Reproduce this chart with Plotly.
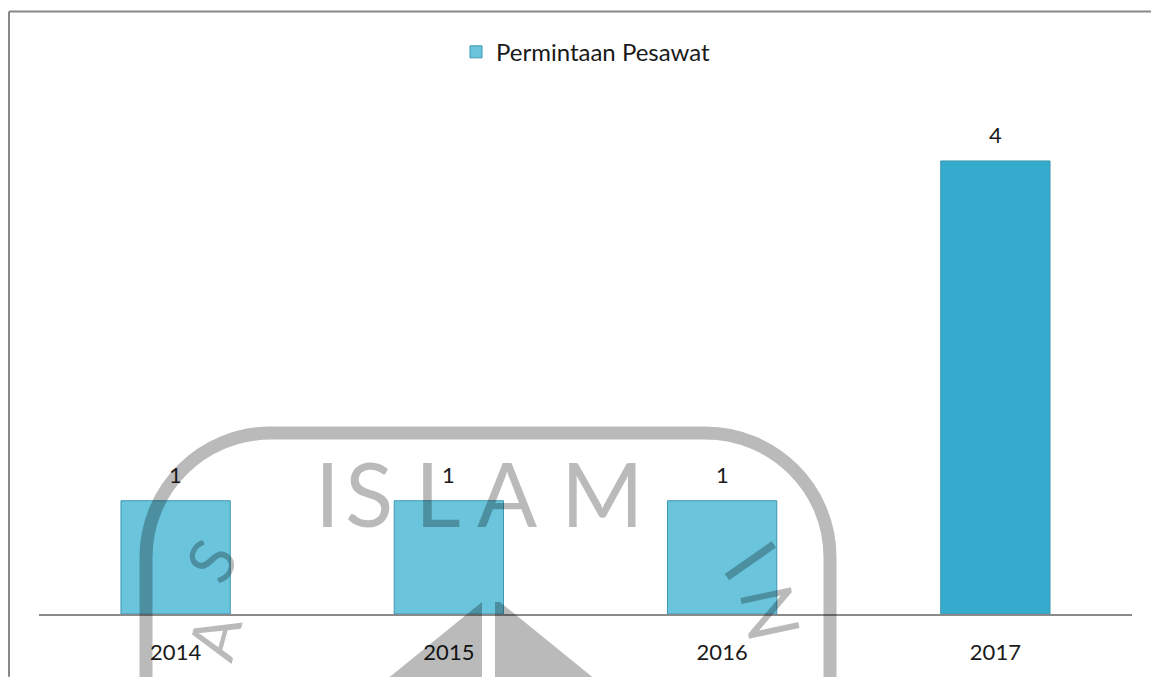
import plotly.graph_objects as go

# ---- data ----
years = ["2014", "2015", "2016", "2017"]
permintaan = [1, 1, 1, 4]
series_name = "Permintaan Pesawat"

# ---- styles ----
bar_colors = ["#69c4dc", "#69c4dc", "#69c4dc", "#35acce"]
W, H = 1151, 677
L, R, T, B = 39, 19, 93, 60
pw, ph = W - L - R, H - T - B
FONT = "Lato, 'Open Sans', sans-serif"
WM = "rgba(0,0,0,0.27)"


def px(x):
    return (x - L) / pw


def py(y):
    return (H - B - y) / ph


def path(cmds):
    out = []
    for c in cmds:
        if isinstance(c, str):
            out.append(c)
        else:
            out.append(f"{px(c[0]):.5f},{py(c[1]):.5f}")
    return " ".join(out)


fig = go.Figure(
    go.Bar(
        x=years,
        y=permintaan,
        name=series_name,
        showlegend=True,
        marker=dict(color=bar_colors, line=dict(color="#3d97b0", width=1)),
    )
)

annotations = []
for i, v in enumerate(permintaan):
    annotations.append(dict(x=i, y=v, xref="x", yref="y", text=str(v), showarrow=False,
                            yanchor="bottom", yshift=11,
                            font=dict(family=FONT, size=22, color="#1a1a1a")))

# watermark letters
for ch, cx in zip("ISLAM", [327.5, 368.5, 438, 507, 602.5]):
    annotations.append(dict(x=px(cx), y=py(495), xref="paper", yref="paper", text=ch,
                            showarrow=False, xanchor="center", yanchor="middle",
                            font=dict(family="Lato", size=89, color=WM, weight=400)))
for ch, cx, cy, ang, sz in [("S", 210, 563, -60, 64), ("A", 214, 640, -75, 64),
                            ("I", 752, 562, 55, 80), ("N", 772, 615, 78, 72)]:
    annotations.append(dict(x=px(cx), y=py(cy), xref="paper", yref="paper", text=ch,
                            showarrow=False, xanchor="center", yanchor="middle", textangle=ang,
                            font=dict(family="Lato", size=sz, color=WM, weight=400)))

k = 0.5523
r = 125
shapes = [
    dict(type="line", xref="paper", yref="paper", x0=px(9), y0=py(11), x1=px(1151), y1=py(11),
         line=dict(color="#888888", width=2)),
    dict(type="line", xref="paper", yref="paper", x0=px(9), y0=py(11), x1=px(9), y1=py(680),
         line=dict(color="#888888", width=2)),
    dict(type="path", xref="paper", yref="paper", layer="above",
         path=path(["M", (146, 700), "L", (146, 435 + r), "C", (146, 435 + r - k * r),
                    (146 + r - k * r, 435), (146 + r, 435), "L", (830 - r, 435), "C",
                    (830 - r + k * r, 435), (830, 435 + r - k * r), (830, 435 + r), "L", (830, 700)]),
         line=dict(color=WM, width=13)),
    dict(type="path", xref="paper", yref="paper", layer="above",
         path=path(["M", (482, 605), "L", (482, 685), "L", (384, 685), "Z"]),
         fillcolor=WM, line=dict(width=0)),
    dict(type="path", xref="paper", yref="paper", layer="above",
         path=path(["M", (495, 605), "L", (500, 605), "L", (598, 685), "L", (495, 685), "Z"]),
         fillcolor=WM, line=dict(width=0)),
]

fig.update_layout(
    width=W, height=H,
    margin=dict(l=L, r=R, t=T, b=B),
    paper_bgcolor="white", plot_bgcolor="white",
    bargap=0.6,
    font=dict(family=FONT, size=22, color="#1a1a1a"),
    showlegend=True,
    legend=dict(orientation="h", x=px(586), y=py(52), xanchor="center", yanchor="middle",
                font=dict(family=FONT, size=24, color="#1a1a1a"), itemwidth=30),
    xaxis=dict(type="category", range=[-0.5, len(years) - 0.5], showline=True,
               linecolor="#8a8a8a", linewidth=1.5, showgrid=False,
               ticks="outside", ticklen=18, tickcolor="rgba(0,0,0,0)",
               tickfont=dict(family=FONT, size=22, color="#1a1a1a")),
    yaxis=dict(visible=False, range=[0, 4.6]),
    annotations=annotations,
    shapes=shapes,
)

fig.write_html("out.html")
